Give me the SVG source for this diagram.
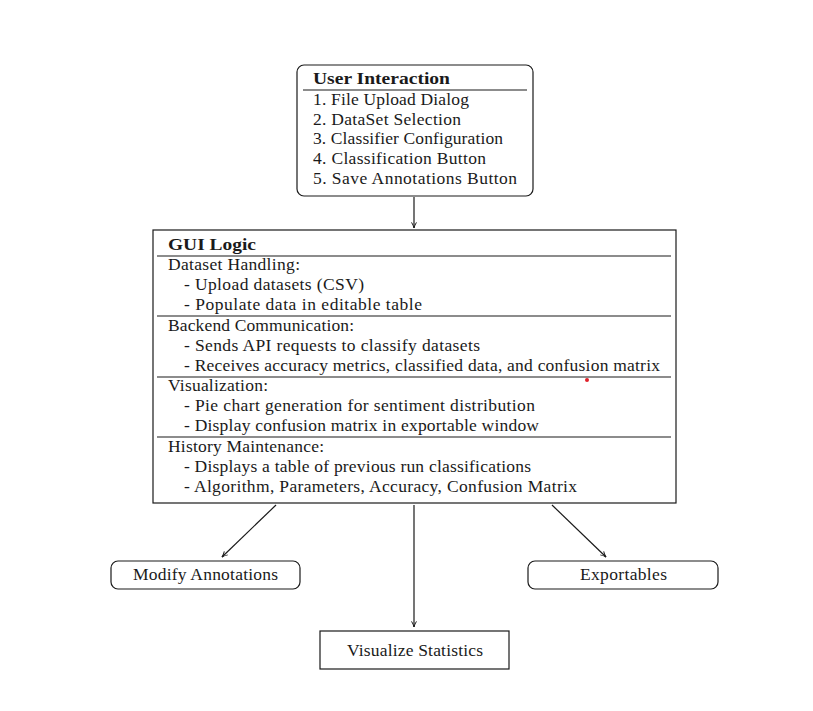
<svg xmlns="http://www.w3.org/2000/svg" width="813" height="711" viewBox="0 0 813 711">
<style>
.t{font-family:"Liberation Serif","DejaVu Serif",serif;font-size:17.5px;fill:#1a1a1a}
.b{font-weight:bold}
.c{text-anchor:middle}
.box{fill:#fff;stroke:#1a1a1a;stroke-width:1.2}
.rule{stroke:#1a1a1a;stroke-width:1.1}
.edge{stroke:#1a1a1a;stroke-width:1.2;fill:none;marker-end:url(#ah)}
</style>
<defs>
<marker id="ah" viewBox="0 0 10 10" refX="9" refY="5" markerWidth="7" markerHeight="7" markerUnits="userSpaceOnUse" orient="auto">
<path d="M1,1.5 Q5,4 9,5 Q5,6 1,8.5" fill="none" stroke="#1a1a1a" stroke-width="1.4"/>
</marker>
</defs>
<rect width="813" height="711" fill="#fff"/>
<g id="connectors">
<line class="edge" x1="414" y1="197" x2="414" y2="228"/>
<line class="edge" x1="276" y1="505" x2="222" y2="557"/>
<line class="edge" x1="414" y1="505" x2="414" y2="627"/>
<line class="edge" x1="552" y1="505" x2="606" y2="557"/>
</g>
<g id="user-interaction">
<rect class="box" x="297" y="65" width="236" height="131" rx="7"/>
<text class="t b" x="313" y="84" textLength="137" lengthAdjust="spacingAndGlyphs">User Interaction</text>
<line class="rule" x1="303" y1="90" x2="527" y2="90"/>
<text class="t" x="313" y="105" textLength="156">1. File Upload Dialog</text>
<text class="t" x="313" y="125" textLength="148">2. DataSet Selection</text>
<text class="t" x="313" y="144" textLength="190">3. Classifier Configuration</text>
<text class="t" x="313" y="164" textLength="173">4. Classification Button</text>
<text class="t" x="313" y="184" textLength="204">5. Save Annotations Button</text>
</g>
<g id="gui-logic">
<rect class="box" x="153" y="230" width="523" height="273"/>
<text class="t b" x="168" y="250" textLength="88" lengthAdjust="spacingAndGlyphs">GUI Logic</text>
<line class="rule" x1="157" y1="256" x2="671" y2="256"/>
<text class="t" x="168" y="270" textLength="132">Dataset Handling:</text>
<text class="t" x="184" y="290" textLength="180">- Upload datasets (CSV)</text>
<text class="t" x="184" y="310" textLength="238">- Populate data in editable table</text>
<line class="rule" x1="157" y1="316" x2="671" y2="316"/>
<text class="t" x="168" y="331" textLength="186">Backend Communication:</text>
<text class="t" x="184" y="351" textLength="296">- Sends API requests to classify datasets</text>
<text class="t" x="184" y="371" textLength="476">- Receives accuracy metrics, classified data, and confusion matrix</text>
<line class="rule" x1="157" y1="377" x2="671" y2="377"/>
<text class="t" x="168" y="391" textLength="100">Visualization:</text>
<text class="t" x="184" y="411" textLength="351">- Pie chart generation for sentiment distribution</text>
<text class="t" x="184" y="431" textLength="355">- Display confusion matrix in exportable window</text>
<line class="rule" x1="157" y1="437" x2="671" y2="437"/>
<text class="t" x="168" y="452" textLength="156">History Maintenance:</text>
<text class="t" x="184" y="472" textLength="347">- Displays a table of previous run classifications</text>
<text class="t" x="184" y="492" textLength="393">- Algorithm, Parameters, Accuracy, Confusion Matrix</text>
<circle cx="587" cy="380" r="2" fill="#e0202a"/>
</g>
<g id="modify-annotations">
<rect class="box" x="111" y="561" width="189" height="28" rx="7"/>
<text class="t c" x="205.5" y="580" textLength="145">Modify Annotations</text>
</g>
<g id="exportables">
<rect class="box" x="528" y="561" width="190" height="28" rx="7"/>
<text class="t c" x="623.5" y="580" textLength="87">Exportables</text>
</g>
<g id="visualize-statistics">
<rect class="box" x="320" y="631" width="189" height="38"/>
<text class="t c" x="415" y="656" textLength="136">Visualize Statistics</text>
</g>
</svg>
